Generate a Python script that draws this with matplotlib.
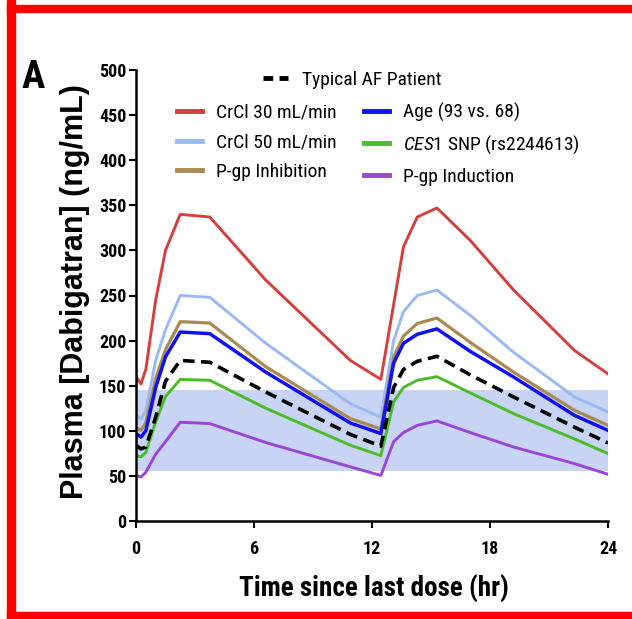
import matplotlib
matplotlib.use('Agg')
import matplotlib.pyplot as plt
from matplotlib.patches import Rectangle

# time since last dose (hr)
t = [0, 0.25, 0.5, 1, 1.5, 2.25, 3.75, 6.6, 10.9, 12.45, 13.1, 13.6, 14.3, 15.3, 17, 19.2, 22.3, 24]

crcl30 = [160, 152, 168, 245, 300, 340, 337, 267, 178, 157, 240, 304, 337, 347, 311, 256, 189, 163]
crcl50 = [117, 113, 122, 178, 212, 250, 248, 197, 130, 115, 200, 232, 250, 256, 228, 187, 137.5, 121]
pgp_inh = [103.5, 100.5, 109, 158, 190, 221, 219.5, 171, 113.5, 102, 182, 205, 219, 225, 198, 165, 122.7, 106]
age = [97, 93, 100, 148, 182, 209.5, 207.7, 165, 108.6, 97, 175, 197, 207, 213, 188, 159.6, 117, 100.5]
typical = [84, 80, 82, 115, 155, 178, 176, 143, 96, 83, 148, 168, 177, 182.6, 162, 137.5, 104, 86.5]
ces1 = [72.8, 71, 76, 110, 138, 157, 156, 125, 84, 72.5, 132, 148, 156, 160, 142, 119, 91, 74.7]
pgp_ind = [50.7, 48.8, 54, 74, 88, 109.5, 108, 87, 60, 50.5, 88, 98, 106, 111, 98, 82, 63.6, 51.8]

band_lo, band_hi = 55, 145

narrow = ['Roboto Condensed', 'Liberation Sans', 'DejaVu Sans']
plt.rcParams['mathtext.fontset'] = 'custom'
plt.rcParams['mathtext.rm'] = 'Roboto Condensed'
plt.rcParams['mathtext.it'] = 'Roboto Condensed:italic'

W, H = 632, 619
fig = plt.figure(figsize=(W / 100, H / 100), dpi=100)
ax = fig.add_axes([136 / W, 98 / H, 472 / W, 451 / H])

ax.axhspan(band_lo, band_hi, color='#c7d4f3', lw=0, zorder=0)

l_red, = ax.plot(t, crcl30, color='#d43f3f', lw=2.1, label='CrCl 30 mL/min')
l_lb, = ax.plot(t, crcl50, color='#9bb9f2', lw=2.1, label='CrCl 50 mL/min')
l_br, = ax.plot(t, pgp_inh, color='#a88a52', lw=2.3, label='P-gp Inhibition')
l_bl, = ax.plot(t, age, color='#1010f0', lw=2.5, label='Age (93 vs. 68)')
l_gr, = ax.plot(t, ces1, color='#4cbb2a', lw=2.1, label='$\\it{CES1}$ SNP (rs2244613)')
l_pu, = ax.plot(t, pgp_ind, color='#9b45d6', lw=2.1, label='P-gp Induction')
l_bk, = ax.plot(t, typical, color='black', lw=2.6, dashes=(3.2, 1.8), label='Typical AF Patient')

ax.set_xlim(0, 24)
ax.set_ylim(0, 500)
ax.set_xticks([0, 6, 12, 18, 24])
ax.set_yticks(range(0, 501, 50))
for s in ['top', 'right']:
    ax.spines[s].set_visible(False)
for s in ['left', 'bottom']:
    ax.spines[s].set_linewidth(1.8)
ax.tick_params(axis='both', direction='out', length=5, width=1.5)
ax.tick_params(axis='y', pad=2)
ax.tick_params(axis='x', pad=9)
for lab in ax.get_xticklabels() + ax.get_yticklabels():
    lab.set_fontfamily(narrow)
    lab.set_fontweight('bold')
    lab.set_fontsize(13)

fig.text(75.5 / W, 1 - 292 / H, 'Plasma [Dabigatran] (ng/mL)', rotation=90,
         ha='center', va='center', fontsize=22, fontweight='bold',
         family=['Liberation Sans', 'DejaVu Sans'])
fig.text(374 / W, 1 - 597 / H, 'Time since last dose (hr)', ha='center',
         va='baseline', fontsize=19.5, fontweight='bold', family=narrow)
fig.text(22 / W, 1 - 88 / H, 'A', ha='left', va='baseline', fontsize=28,
         fontweight='bold', family=narrow)

# legends
leg1 = ax.legend(handles=[l_bk], loc='upper left', frameon=False,
                 bbox_to_anchor=(263 / W, 1 - 71 / H), bbox_transform=fig.transFigure,
                 borderpad=0, borderaxespad=0, handlelength=1.3, handletextpad=0.7,
                 prop={'family': narrow, 'size': 14})
ax.add_artist(leg1)
leg2 = ax.legend(handles=[l_red, l_lb, l_br, l_bl, l_gr, l_pu], ncol=2,
                 loc='upper left', frameon=False,
                 bbox_to_anchor=(177 / W, 1 - 103 / H), bbox_transform=fig.transFigure,
                 borderpad=0, borderaxespad=0, handlelength=1.3, handletextpad=0.7,
                 labelspacing=0.6, columnspacing=1.4,
                 prop={'family': narrow, 'size': 14})
for ln in leg1.get_lines() + leg2.get_lines():
    ln.set_linewidth(3.5)
leg1.get_lines()[0].set_dashes((2.0, 1.3))

# red frame
red = '#ff0000'
fig.patches.append(Rectangle((7 / W, 0), 8 / W, 1, transform=fig.transFigure, color=red, zorder=10))
fig.patches.append(Rectangle((7 / W, 1 - 12 / H), 1, 7 / H, transform=fig.transFigure, color=red, zorder=10))
fig.patches.append(Rectangle((7 / W, 0), 1, 7 / H, transform=fig.transFigure, color=red, zorder=10))

fig.savefig('out.png', dpi=100)
